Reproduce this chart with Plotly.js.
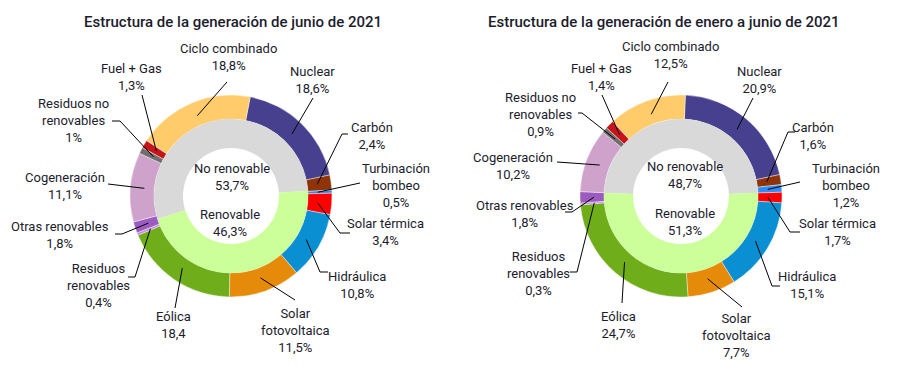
<!DOCTYPE html>
<html>
<head>
<meta charset="utf-8">
<script src="https://cdn.plot.ly/plotly-3.0.1.min.js"></script>
<style>
  html, body { margin: 0; padding: 0; background: #ffffff; }
  #chart { width: 900px; height: 372px; }
</style>
</head>
<body>
<div id="chart"></div>
<script>
// ---------- DATA ----------
const categories = ['Nuclear', 'Carbón', 'Turbinación bombeo', 'Solar térmica', 'Hidráulica',
  'Solar fotovoltaica', 'Eólica', 'Residuos renovables', 'Otras renovables', 'Cogeneración',
  'Residuos no renovables', 'Fuel + Gas', 'Ciclo combinado'];
const categoryLabels = ['Nuclear', 'Carbón', 'Turbinación<br>bombeo', 'Solar térmica', 'Hidráulica',
  'Solar<br>fotovoltaica', 'Eólica', 'Residuos<br>renovables', 'Otras renovables', 'Cogeneración',
  'Residuos no<br>renovables', 'Fuel + Gas', 'Ciclo combinado'];
const junio = [18.6, 2.4, 0.5, 3.4, 10.8, 11.5, 18.4, 0.4, 1.8, 11.1, 1.0, 1.3, 18.8];
const junioText = ['18,6%', '2,4%', '0,5%', '3,4%', '10,8%', '11,5%', '18,4', '0,4%', '1,8%', '11,1%', '1%', '1,3%', '18,8%'];
const eneroJunio = [20.9, 1.6, 1.2, 1.7, 15.1, 7.7, 24.7, 0.3, 1.8, 10.2, 0.9, 1.4, 12.5];
const eneroJunioText = ['20,9%', '1,6%', '1,2%', '1,7%', '15,1%', '7,7%', '24,7%', '0,3%', '1,8%', '10,2%', '0,9%', '1,4%', '12,5%'];
const groups = ['No renovable', 'Renovable'];
const junioGroups = [53.7, 46.3];
const junioGroupsText = ['53,7%', '46,3%'];
const eneroJunioGroups = [48.7, 51.3];
const eneroJunioGroupsText = ['48,7%', '51,3%'];
const titles = ['Estructura de la generación de junio de 2021', 'Estructura de la generación de enero a junio de 2021'];

// ---------- STYLE / LAYOUT ----------
const W = 900, H = 372;
const FONT = 'Roboto, "Liberation Sans", sans-serif';
const TXT = '#1c1c2c';
const catColors = ['#47408f', '#8f3409', '#2e8df5', '#ff0000', '#0a8fd3', '#e68a0a', '#6fad1b',
  '#c58be0', '#9c5bc0', '#cfa2cc', '#6e6e6e', '#c8131b', '#ffcb6b'];
const grpColors = ['#d9d9d9', '#ccff99'];

const charts = [
  {
    cx: 231, cy: 196, rot: 11, innerRot: 252.7, title: [233.5, 22],
    values: junio, texts: junioText, gvalues: junioGroups, gtexts: junioGroupsText,
    center: [[232, 176.5], [230, 223]],
    labelPos: [[312, 80], [372, 135.5], [396, 185], [385, 232], [357, 285], [295, 330], [173, 325],
      [98, 285.5], [60, 235], [65, 185.5], [73, 121], [131, 77], [228, 57.5]],
    leader: [[[313, 98]], [[348, 134], [342, 134]], [[360, 183]], [[350, 233], [340, 233]],
      [[328, 272], [320, 272]], [[295, 300]], [[175, 308]], [[128, 277], [135, 277]],
      [[115, 234], [122, 234]], [[108, 184]], [[112, 121], [120, 121]], [[142, 95]], [[227, 82]]]
  },
  {
    cx: 681, cy: 196, rot: 2.5, innerRot: 272.3, title: [663.5, 22],
    values: eneroJunio, texts: eneroJunioText, gvalues: eneroJunioGroups, gtexts: eneroJunioGroupsText,
    center: [[685, 175], [685, 221.5]],
    labelPos: [[759, 80], [813, 135.5], [846, 185], [837, 232], [807, 285], [736, 335.5], [618, 324.5],
      [538, 273.5], [525, 213.5], [513, 166], [540, 115], [601, 76.5], [670, 55.5]],
    leader: [[[753, 98]], [[795, 132], [788, 132]], [[800, 182]], [[800, 232], [790, 232]],
      [[780, 286], [772, 286]], [[742, 307]], [[622, 303]], [[570, 272], [577, 272]],
      [[565, 212], [572, 212]], [[557, 162]], [[578, 113], [582, 113]], [[602, 95]], [[668, 82]]]
  }
];

const R_OUT = 101, R_MID = 77, R_IN = 48, R_LEAD = 87;
const px = x => x / W;
const py = y => 1 - y / H;

const data = [];
const annotations = [];
const shapes = [];

charts.forEach((c, ci) => {
  data.push({
    type: 'pie', values: c.values, labels: categories, sort: false, direction: 'clockwise',
    rotation: c.rot, hole: R_MID / R_OUT, textinfo: 'none', hoverinfo: 'label+value',
    marker: { colors: catColors, line: { color: '#ffffff', width: 0.4 } },
    domain: { x: [px(c.cx - R_OUT), px(c.cx + R_OUT)], y: [py(c.cy + R_OUT), py(c.cy - R_OUT)] },
    showlegend: false
  });
  data.push({
    type: 'pie', values: c.gvalues, labels: groups, sort: false, direction: 'clockwise',
    rotation: c.innerRot, hole: R_IN / R_MID, textinfo: 'none', hoverinfo: 'label+value',
    marker: { colors: grpColors, line: { color: '#ffffff', width: 0 } },
    domain: { x: [px(c.cx - R_MID), px(c.cx + R_MID)], y: [py(c.cy + R_MID), py(c.cy - R_MID)] },
    showlegend: false
  });

  // title
  annotations.push({
    xref: 'paper', yref: 'paper', x: px(c.title[0]), y: py(c.title[1]), xanchor: 'center', yanchor: 'middle',
    text: titles[ci], showarrow: false, font: { family: FONT, size: 15, color: TXT, weight: 500 }
  });
  // center texts
  groups.forEach((g, gi) => {
    annotations.push({
      xref: 'paper', yref: 'paper', x: px(c.center[gi][0]), y: py(c.center[gi][1]),
      xanchor: 'center', yanchor: 'middle', showarrow: false,
      text: g + '<br>' + c.gtexts[gi], font: { family: FONT, size: 13, color: TXT }
    });
  });

  // slice labels + leader lines
  const total = c.values.reduce((a, b) => a + b, 0);
  let cum = 0;
  c.values.forEach((v, i) => {
    const mid = (cum + v / 2) / total * 360 + c.rot;
    cum += v;
    const a = mid * Math.PI / 180;
    const sx = c.cx + R_LEAD * Math.sin(a);
    const sy = c.cy - R_LEAD * Math.cos(a);
    const pts = c.leader[i].concat([[sx, sy]]);
    let path = 'M ' + px(pts[0][0]) + ',' + py(pts[0][1]);
    for (let k = 1; k < pts.length; k++) path += ' L ' + px(pts[k][0]) + ',' + py(pts[k][1]);
    shapes.push({ type: 'path', xref: 'paper', yref: 'paper', path: path,
      line: { color: '#000000', width: 1 } });
    annotations.push({
      xref: 'paper', yref: 'paper', x: px(c.labelPos[i][0]), y: py(c.labelPos[i][1]),
      xanchor: 'center', yanchor: 'middle', showarrow: false,
      text: categoryLabels[i] + '<br>' + c.texts[i], font: { family: FONT, size: 13, color: TXT }
    });
  });
});

const layout = {
  width: W, height: H,
  margin: { l: 0, r: 0, t: 0, b: 0, pad: 0 },
  paper_bgcolor: '#ffffff', plot_bgcolor: '#ffffff',
  showlegend: false,
  annotations: annotations,
  shapes: shapes
};

Plotly.newPlot('chart', data, layout, { displayModeBar: false, staticPlot: true });
</script>
</body>
</html>
